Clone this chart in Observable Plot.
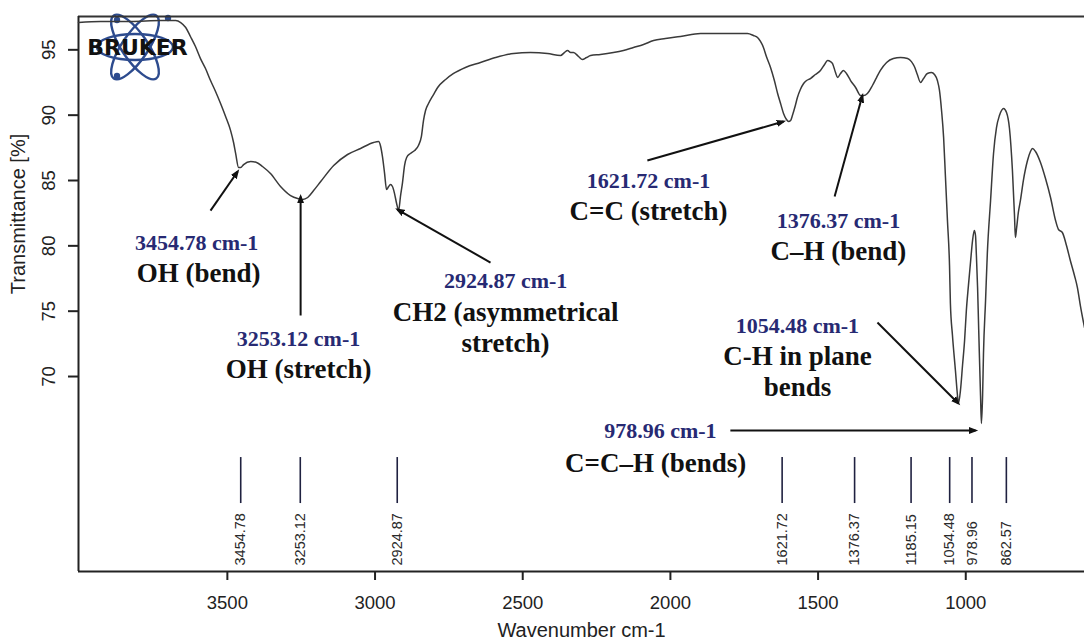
<!DOCTYPE html>
<html>
<head>
<meta charset="utf-8">
<script src="https://cdn.jsdelivr.net/npm/d3@7"></script>
<script src="https://cdn.jsdelivr.net/npm/@observablehq/plot@0.6"></script>
<style>
  body { margin: 0; background: #fff; }
  #chart svg { display: block; }
</style>
</head>
<body>
<div id="chart"></div>
<script>
// FTIR spectrum: wavenumber (cm-1) and transmittance (%)
const wavenumber = [
  4004, 3929, 3828, 3726, 3675, 3658, 3641, 3625, 3608, 3591, 3574, 3557, 3540, 3523, 3506,
  3489, 3479, 3472, 3462, 3455, 3445, 3421, 3401, 3381, 3354, 3320, 3286, 3262, 3245, 3228,
  3208, 3184, 3140, 3093, 3049, 3005, 2988, 2981, 2975, 2968, 2961, 2954, 2948, 2941, 2934,
  2927, 2920, 2914, 2907, 2900, 2893, 2880, 2866, 2853, 2843, 2836, 2829, 2819, 2802, 2788,
  2761, 2734, 2694, 2643, 2592, 2531, 2474, 2416, 2372, 2359, 2348, 2338, 2328, 2311, 2298,
  2284, 2270, 2237, 2193, 2159, 2125, 2091, 2057, 2017, 1966, 1898, 1854, 1797, 1739, 1719,
  1705, 1695, 1685, 1675, 1661, 1648, 1637, 1627, 1617, 1607, 1600, 1593, 1587, 1577, 1570,
  1560, 1549, 1539, 1526, 1509, 1492, 1478, 1468, 1458, 1451, 1441, 1434, 1424, 1414, 1404,
  1390, 1373, 1356, 1346, 1333, 1316, 1302, 1289, 1268, 1245, 1221, 1197, 1184, 1174, 1164,
  1153, 1143, 1130, 1116, 1106, 1096, 1089, 1082, 1075, 1069, 1062, 1055, 1052, 1045, 1035,
  1028, 1025, 1018, 1011, 1004, 998, 991, 984, 977, 971, 967, 964, 960, 957, 954,
  950, 947, 943, 940, 933, 927, 916, 906, 896, 886, 872, 862, 852, 842, 835,
  832, 828, 822, 815, 805, 791, 781, 774, 764, 747, 730, 713, 696, 686, 673,
  659, 646, 632, 622, 612, 598
];
const transmittance = [
  97.09, 97.17, 97.17, 97.24, 97.24, 97.09, 96.71, 96.02, 95.25, 94.33, 93.57, 92.65, 91.81, 90.89, 89.90,
  88.82, 87.91, 87.07, 85.99, 85.99, 86.22, 86.45, 86.38, 86.07, 85.53, 84.54, 83.85, 83.62, 83.55, 83.70,
  84.23, 84.92, 86.15, 86.99, 87.45, 87.91, 87.98, 87.60, 86.84, 85.61, 84.31, 84.54, 84.69, 84.54, 84.00,
  83.24, 82.71, 83.77, 84.84, 86.15, 86.76, 87.07, 87.29, 87.68, 88.37, 89.59, 90.36, 90.89, 91.58, 92.12,
  92.73, 93.19, 93.65, 94.03, 94.41, 94.72, 94.79, 94.72, 94.56, 94.79, 94.95, 94.79, 94.79, 94.49, 94.26,
  94.41, 94.56, 94.64, 94.79, 94.95, 95.18, 95.41, 95.71, 95.86, 96.02, 96.25, 96.25, 96.25, 96.25, 96.10,
  95.94, 95.64, 95.18, 94.49, 93.65, 92.65, 91.66, 90.89, 90.13, 89.67, 89.51, 89.59, 89.97, 90.74, 91.35,
  91.96, 92.42, 92.65, 92.80, 93.11, 93.42, 93.88, 94.18, 94.10, 93.95, 93.26, 92.88, 93.19, 93.42, 93.19,
  92.65, 92.12, 91.50, 91.50, 91.66, 92.27, 92.88, 93.42, 94.03, 94.33, 94.41, 94.33, 94.10, 93.72, 93.11,
  92.50, 92.80, 93.19, 93.26, 93.11, 92.65, 91.89, 90.36, 88.29, 85.38, 81.94, 78.49, 75.58, 73.14, 70.46,
  68.55, 67.94, 68.93, 70.84, 72.76, 75.05, 76.96, 78.72, 80.41, 81.17, 80.79, 79.26, 76.81, 74.28, 71.76,
  68.55, 66.41, 68.55, 71.76, 75.81, 79.41, 83.47, 87.07, 89.05, 89.97, 90.51, 90.20, 88.98, 85.76, 82.32,
  80.64, 81.33, 82.55, 83.47, 85.00, 86.53, 87.22, 87.45, 87.22, 86.38, 85.15, 83.70, 81.94, 81.25, 81.02,
  80.03, 78.88, 77.73, 76.81, 75.43, 73.75
];

// axis ticks
const xTicks = [3500, 3000, 2500, 2000, 1500, 1000];
const yTicks = [70, 75, 80, 85, 90, 95];

// peak-picking markers
const peakPositions = [3454.78, 3253.12, 2924.87, 1621.72, 1376.37, 1185.15, 1054.48, 978.96, 862.57];
const peakTickLabels = ["3454.78", "3253.12", "2924.87", "1621.72", "1376.37", "1185.15", "1054.48", "978.96", "862.57"];

// band assignments: value label, assignment, label anchors and arrow ends
const bandValues = ["3454.78 cm-1", "3253.12 cm-1", "2924.87 cm-1", "1621.72 cm-1", "1376.37 cm-1", "1054.48 cm-1", "978.96 cm-1"];
const bandNames = ["OH (bend)", "OH (stretch)", "CH2 (asymmetrical\nstretch)", "C=C (stretch)", "C\u2013H (bend)", "C-H in plane\nbends", "C=C\u2013H (bends)"];
const bandValueX = [3604, 3259, 2558, 2074, 1431, 1570, 2034];
const bandValueY = [80.25, 72.91, 77.35, 85.00, 81.94, 73.90, 65.87];
const bandNameX = [3597, 3259, 2558, 2074, 1431, 1570, 2050];
const bandNameY = [77.96, 70.61, 73.83, 82.70, 79.64, 70.46, 63.42];
const arrowX1 = [3557, 3252, 2609, 2078, 1444, 1299, 1797];
const arrowY1 = [82.70, 74.67, 78.72, 86.53, 83.77, 74.14, 65.87];
const arrowX2 = [3465, 3252, 2924, 1617, 1350, 1025, 967];
const arrowY2 = [85.69, 83.77, 82.78, 89.51, 91.50, 67.94, 65.87];

const xDomain = [4004, 598];
const yDomain = [55.08, 97.55];

const spectrum = wavenumber.map((w, i) => ({w, t: transmittance[i]}));
const bands = bandValues.map((v, i) => ({
  value: v, name: bandNames[i],
  vx: bandValueX[i], vy: bandValueY[i],
  nx: bandNameX[i], ny: bandNameY[i],
  x1: arrowX1[i], y1: arrowY1[i], x2: arrowX2[i], y2: arrowY2[i]
}));
const peaks = peakPositions.map((p, i) => ({p, label: peakTickLabels[i]}));

const serif = "'Liberation Serif', 'Times New Roman', Times, serif";
const sans = "'Liberation Sans', Arial, Helvetica, sans-serif";
const navy = "#272a73";
const ink = "#222";

const chart = Plot.plot({
  width: 1084,
  height: 643,
  marginLeft: 78,
  marginRight: 0,
  marginTop: 16,
  marginBottom: 72,
  style: {fontFamily: sans, color: ink, background: "#fff", overflow: "visible"},
  x: {type: "linear", domain: xDomain},
  y: {type: "linear", domain: yDomain},
  marks: [
    // plot box (top, left, bottom)
    Plot.ruleY([yDomain[1]], {stroke: "#333", strokeWidth: 2}),
    Plot.ruleY([yDomain[0]], {stroke: ink, strokeWidth: 2}),
    Plot.ruleX([xDomain[0]], {stroke: ink, strokeWidth: 2}),
    Plot.axisX({ticks: xTicks, tickSize: 9, tickPadding: 15, fontSize: 18.5, tickFormat: d => String(d), label: null, strokeWidth: 2}),
    Plot.axisY({ticks: yTicks, tickSize: 10, tickPadding: 14, tickRotate: -90, fontSize: 18.5, tickFormat: d => String(d), label: null, strokeWidth: 2}),
    Plot.text(["Wavenumber cm-1"], {frameAnchor: "bottom", dy: 65, fontSize: 20, fill: ink}),
    Plot.text(["Transmittance [%]"], {frameAnchor: "left", dx: -60, dy: -80, rotate: -90, textAnchor: "middle", fontSize: 20, fill: ink}),

    // logo lettering
    Plot.text(["BRUKER"], {frameAnchor: "top-left", dx: 59, dy: 23, fontFamily: "'DejaVu Sans', sans-serif", fontWeight: "900", fontSize: 22, fill: "#111", textAnchor: "middle", style: "letter-spacing:4px"}),

    // spectrum
    Plot.line(spectrum, {x: "w", y: "t", stroke: "#3a3a3a", strokeWidth: 1.5, curve: "monotone-x"}),

    // picked peaks
    Plot.ruleX(peaks, {x: "p", y1: 60.28, y2: 63.8, stroke: "#1f2140", strokeWidth: 1.6}),
    Plot.text(peaks, {x: "p", y: 55.54, text: "label", rotate: -90, textAnchor: "start", lineAnchor: "middle", fontSize: 14.5, fill: "#2a2a2a"}),

    // band annotations
    Plot.link(bands, {x1: "x1", y1: "y1", x2: "x2", y2: "y2", stroke: "#111", strokeWidth: 2, markerEnd: "arrow"}),
    Plot.text(bands, {x: "vx", y: "vy", text: "value", fontFamily: serif, fontWeight: "bold", fontSize: 22, fill: navy}),
    Plot.text(bands, {x: "nx", y: "ny", text: "name", fontFamily: serif, fontWeight: "bold", fontSize: 27, lineHeight: 1.15, fill: "#111"})
  ]
});

// filled arrowheads
d3.select(chart).selectAll("marker")
  .attr("fill", "#111").attr("stroke", "none")
  .select("path").attr("d", "M-6,-3L2,0L-6,3Z");

// atom emblem behind the lettering
const ns = "http://www.w3.org/2000/svg";
const emblem = document.createElementNS(ns, "g");
emblem.setAttribute("transform", "translate(135,47)");
emblem.setAttribute("fill", "none");
emblem.setAttribute("stroke", "#2d4b8e");
emblem.setAttribute("stroke-width", "2.4");
[0, 56, -56].forEach(a => {
  const e = document.createElementNS(ns, "ellipse");
  e.setAttribute("rx", 38); e.setAttribute("ry", 13);
  e.setAttribute("transform", `rotate(${a})`);
  emblem.appendChild(e);
});
[[-18, -27], [33, -29], [-18, 29]].forEach(([cx, cy]) => {
  const c = document.createElementNS(ns, "circle");
  c.setAttribute("cx", cx); c.setAttribute("cy", cy); c.setAttribute("r", 3.2);
  c.setAttribute("fill", "#2d4b8e"); c.setAttribute("stroke", "none");
  emblem.appendChild(c);
});
const firstMark = chart.querySelector("g");
chart.insertBefore(emblem, firstMark);

document.getElementById("chart").appendChild(chart);
</script>
</body>
</html>
